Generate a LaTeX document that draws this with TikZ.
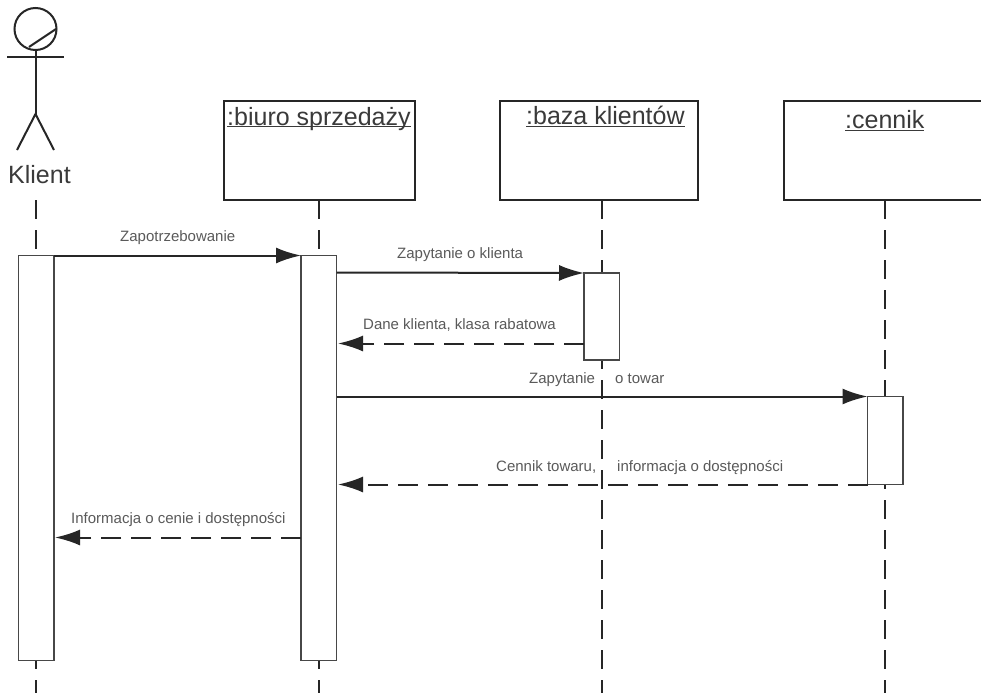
\documentclass[tikz,border=0pt]{standalone}
\usepackage{fontspec}
\setmainfont{Liberation Sans}
\usetikzlibrary{arrows.meta}
\definecolor{ink}{HTML}{262626}
\definecolor{lbl}{HTML}{5A5A5A}
\definecolor{objink}{HTML}{3A3A3A}
\tikzset{
  x=1pt,y=-1pt,
  objbox/.style={draw=ink,line width=2pt,fill=white,minimum width=#1,minimum height=99pt,inner sep=0pt,outer sep=0pt,anchor=north west},
  bar/.style={draw=ink!85,line width=1.7pt,fill=white,minimum width=35.5pt,inner sep=0pt,outer sep=0pt,anchor=north west},
  lifeline/.style={draw=ink,line width=2pt,dash pattern=on 19pt off 11pt},
  msg/.style={draw=ink,line width=2pt,-{Latex[length=25pt,width=16pt,inset=0pt,sep=0pt]}},
  ret/.style={msg,dash pattern=on 20pt off 10pt},
  msgtext/.style={text=lbl,font=\fontsize{15}{17}\selectfont,inner sep=0pt,anchor=base west},
  objtext/.style={text=objink,font=\fontsize{25}{28}\selectfont,inner sep=0pt,anchor=base west},
  limb/.style={draw=ink,line width=2pt}
}
\begin{document}
\begin{tikzpicture}
\useasboundingbox (0,0) rectangle (981,693);
\fill[white] (0,0) rectangle (981,693);
% lifelines
\coordinate (k1) at (35.5,200); \coordinate (k2) at (35.5,693);
\coordinate (b1) at (318.5,200); \coordinate (b2) at (318.5,693);
\coordinate (z1) at (602,200); \coordinate (z2) at (602,693);
\coordinate (c1) at (885,200); \coordinate (c2) at (885,693);
\draw[lifeline] (k1) -- (k2);
\draw[lifeline] (b1) -- (b2);
\draw[lifeline] (z1) -- (z2);
\draw[lifeline] (c1) -- (c2);
% objects
\node[objbox=191pt] (biuro) at (223.5,101) {};
\node[objbox=198pt] (baza) at (500,101) {};
\node[objbox=198pt] (cen) at (783.5,101) {};
\node[objtext] (tb) at (227,125) {\underline{\smash{:biuro sprzedaży}}};
\node[objtext] (tz) at (526,124.5) {\underline{\smash{:baza klientów}}};
\node[objtext] (tc) at (845,128.5) {\underline{\smash{:cennik}}};
% activations
\node[bar,minimum height=405pt] (ak) at (18.5,255.5) {};
\node[bar,minimum height=405pt] (ab) at (301,255.5) {};
\node[bar,minimum height=87pt] (az) at (584,273) {};
\node[bar,minimum height=88pt] (ac) at (867.5,396.5) {};
% actor
\node[draw=ink,line width=2pt,circle,minimum size=42pt,inner sep=0pt,outer sep=0pt] (head) at (35.5,29) {};
\coordinate (neck) at (35.5,50);
\coordinate (hip) at (35.5,114);
\coordinate (armL) at (7,57); \coordinate (armR) at (64,57);
\coordinate (footL) at (17,150); \coordinate (footR) at (54,150);
\coordinate (s1) at (29,47); \coordinate (s2) at (56,29);
\draw[limb] (neck) -- (hip);
\draw[limb] (armL) -- (armR);
\draw[limb] (footL) -- (hip) -- (footR);
\draw[limb] (s1) -- (s2);
\node[text=objink,font=\fontsize{25}{28}\selectfont,inner sep=0pt,anchor=base west] (kl) at (8,183) {Klient};
% messages
\draw[msg] (ak.north east) -- (ab.north west);
\coordinate (m2) at (336.5,272.5); \draw[msg] (m2) -- (az.north west);
\coordinate (m3s) at (584,343.5); \coordinate (m3e) at (338,343.5); \draw[ret] (m3s) -- (m3e);
\coordinate (m4) at (336.5,396.5); \draw[msg] (m4) -- (ac.north west);
\coordinate (m5s) at (867.5,484.5); \coordinate (m5e) at (338,484.5); \draw[ret] (m5s) -- (m5e);
\coordinate (m6s) at (301,537.5); \coordinate (m6e) at (55,537.5); \draw[ret] (m6s) -- (m6e);
% labels
\node[msgtext] (l1) at (120,241) {Zapotrzebowanie};
\node[msgtext] (l2) at (397,258.5) {Zapytanie o klienta};
\node[msgtext] (l3) at (363,329) {Dane klienta, klasa rabatowa};
\node[msgtext] (l4a) at (529,383) {Zapytanie};
\node[msgtext] (l4b) at (615,383) {o towar};
\node[msgtext] (l5a) at (496,471) {Cennik towaru,};
\node[msgtext] (l5b) at (617,471) {informacja o dostępności};
\node[msgtext] (l6) at (71,523) {Informacja o cenie i dostępności};
\end{tikzpicture}
\end{document}
